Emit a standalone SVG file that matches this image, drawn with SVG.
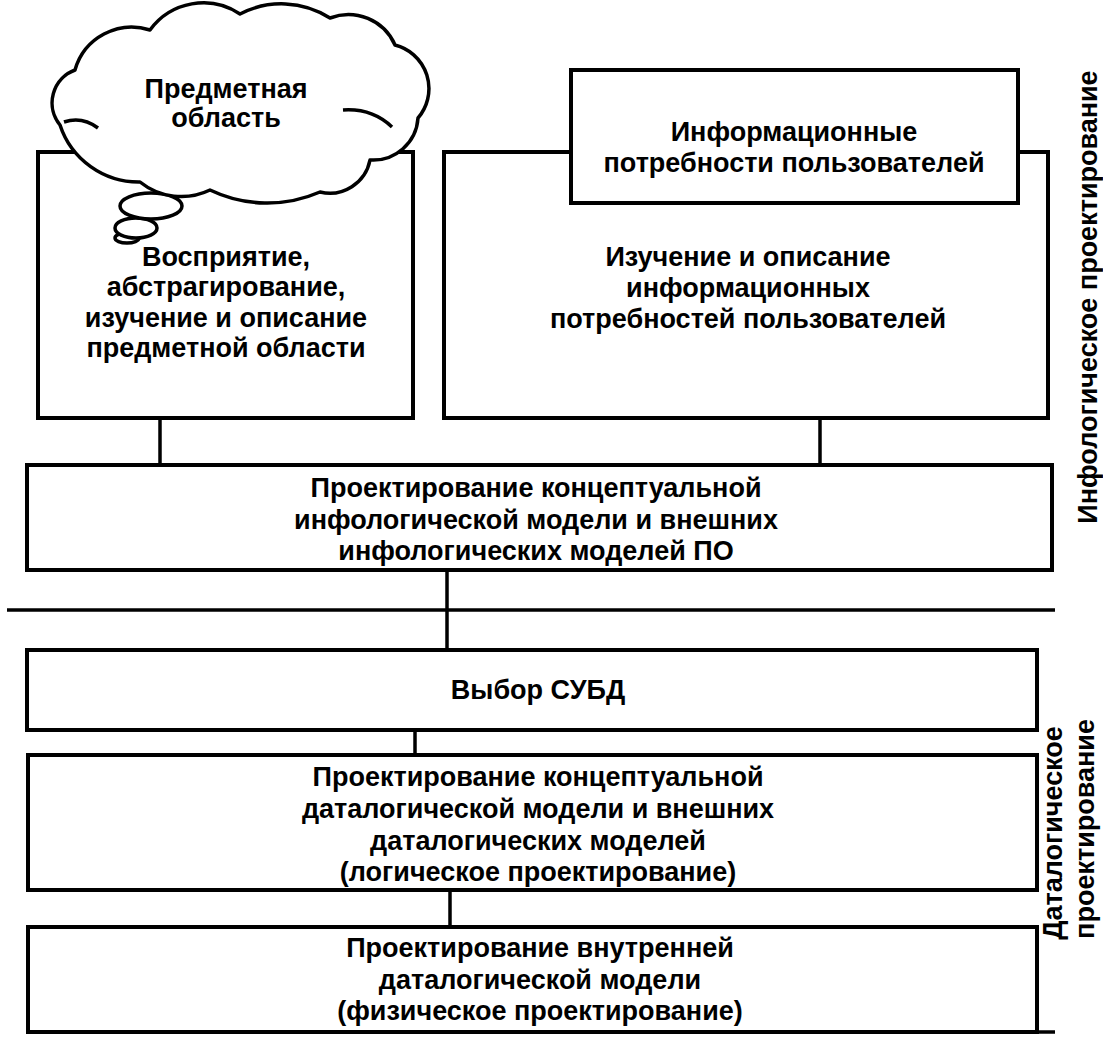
<svg xmlns="http://www.w3.org/2000/svg" width="1103" height="1051" viewBox="0 0 1103 1051">
<style>
.box{fill:#fff;stroke:#000;stroke-width:4}
.ln{fill:none;stroke:#000;stroke-width:3.5}
.t{font-family:"Liberation Sans",Arial,sans-serif;font-weight:bold;font-size:27px;fill:#000;text-anchor:middle}
.cl{fill:#fff;stroke:#000;stroke-width:3.5;stroke-linejoin:round}
</style>
<rect width="1103" height="1051" fill="#fff"/>
<g id="connectors">
<line class="ln" x1="160" y1="418" x2="160" y2="465"/>
<line class="ln" x1="820" y1="418" x2="820" y2="465"/>
<line class="ln" x1="447" y1="570" x2="447" y2="650"/>
<line class="ln" x1="415" y1="730" x2="415" y2="755"/>
<line class="ln" x1="450" y1="890" x2="450" y2="927"/>
<line class="ln" x1="7" y1="610" x2="1055" y2="610"/>
<line class="ln" x1="28" y1="1032" x2="1055" y2="1032"/>
</g>
<g id="node-perception">
<rect class="box" x="38" y="152" width="375" height="266"/>
<text class="t" x="226" y="266">Восприятие,</text>
<text class="t" x="226" y="296">абстрагирование,</text>
<text class="t" x="226" y="327">изучение и описание</text>
<text class="t" x="226" y="357">предметной области</text>
</g>
<g id="node-subject-area">
<ellipse class="cl" cx="127" cy="238" rx="12" ry="5"/>
<ellipse class="cl" cx="136" cy="228" rx="21" ry="10"/>
<ellipse class="cl" cx="151" cy="206" rx="31" ry="13"/>
<path class="cl" d="M60,125 A35,35 0 0 1 75,70 A59,59 0 0 1 150,30 A66,66 0 0 1 240,14 A90,90 0 0 1 330,18 A51,51 0 0 1 395,45 A45,45 0 0 1 418,118 A45,45 0 0 1 370,160 A41,41 0 0 1 320,192 A132,132 0 0 1 210,190 A66,66 0 0 1 140,182 A83,83 0 0 1 60,125 Z"/>
<path class="ln" d="M64,122 Q82,116 98,128"/>
<path class="ln" d="M343,110 Q372,108 392,127"/>
<text class="t" x="226" y="98">Предметная</text>
<text class="t" x="226" y="127">область</text>
</g>
<g id="node-study-needs">
<rect class="box" x="444" y="152" width="604" height="266"/>
<text class="t" x="748" y="266">Изучение и описание</text>
<text class="t" x="748" y="297">информационных</text>
<text class="t" x="748" y="328">потребностей пользователей</text>
</g>
<g id="node-info-needs">
<rect class="box" x="571" y="70" width="447" height="133"/>
<text class="t" x="794" y="141">Информационные</text>
<text class="t" x="794" y="172">потребности пользователей</text>
</g>
<g id="node-infological">
<rect class="box" x="27" y="465" width="1025" height="105"/>
<text class="t" x="536" y="497">Проектирование концептуальной</text>
<text class="t" x="536" y="529">инфологической модели и внешних</text>
<text class="t" x="536" y="560">инфологических моделей ПО</text>
</g>
<g id="node-dbms">
<rect class="box" x="27" y="650" width="1010" height="80"/>
<text class="t" x="538" y="699">Выбор СУБД</text>
</g>
<g id="node-logical">
<rect class="box" x="28" y="755" width="1009" height="135"/>
<text class="t" x="538" y="786">Проектирование концептуальной</text>
<text class="t" x="538" y="818">даталогической модели и внешних</text>
<text class="t" x="538" y="850">даталогических моделей</text>
<text class="t" x="538" y="881">(логическое проектирование)</text>
</g>
<g id="node-physical">
<rect class="box" x="28" y="927" width="1009" height="105"/>
<text class="t" x="540" y="957">Проектирование внутренней</text>
<text class="t" x="540" y="989">даталогической модели</text>
<text class="t" x="540" y="1020">(физическое проектирование)</text>
</g>
<g id="label-infological">
<text class="t" transform="translate(1097,297) rotate(-90)">Инфологическое проектирование</text>
</g>
<g id="label-datalogical">
<text class="t" transform="translate(1062,833) rotate(-90)">Даталогическое</text>
<text class="t" transform="translate(1094,829) rotate(-90)">проектирование</text>
</g>
</svg>
